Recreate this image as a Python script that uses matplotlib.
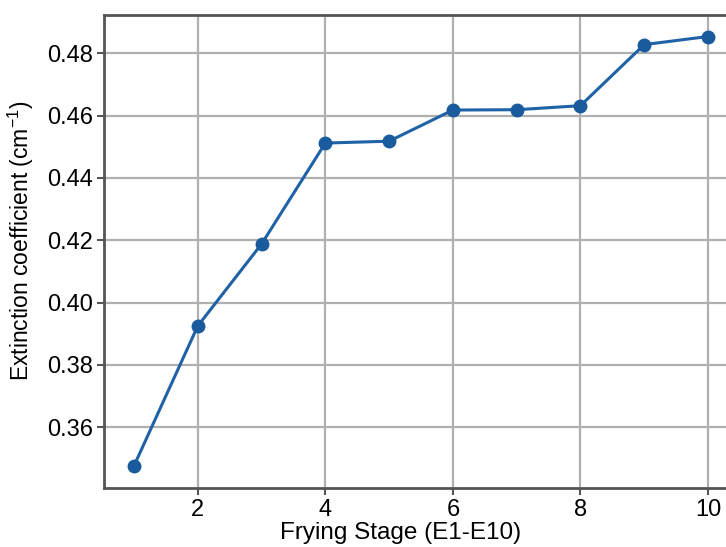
import matplotlib
matplotlib.use("Agg")
import matplotlib.pyplot as plt

stages = [1, 2, 3, 4, 5, 6, 7, 8, 9, 10]
extinction = [0.3476, 0.3925, 0.4188, 0.4512, 0.4518, 0.4618, 0.4619, 0.4632, 0.4828, 0.4854]
xticks = [2, 4, 6, 8, 10]
yticks = [0.36, 0.38, 0.40, 0.42, 0.44, 0.46, 0.48]

plt.rcParams['font.family'] = ['Liberation Sans', 'DejaVu Sans']
plt.rcParams['mathtext.fontset'] = 'custom'
plt.rcParams['mathtext.rm'] = 'Liberation Sans'
plt.rcParams['mathtext.it'] = 'Liberation Sans:italic'

fig = plt.figure(figsize=(7.26, 5.47), dpi=100)
ax = fig.add_axes([104/726, 1 - 488/547, 634/726, (488 - 15)/547])

ax.plot(stages, extinction, color='#1f62a6', lw=2.2, marker='o', ms=9,
        markerfacecolor='#1a5b9e', markeredgecolor='#1a5b9e', zorder=3)

ax.set_xlim(0.53, 10.47)
ax.set_ylim(0.3405, 0.4923)
ax.set_xticks(xticks)
ax.set_yticks(yticks)
ax.set_yticklabels([f"{v:.2f}" for v in yticks])
ax.grid(True, color='#b0b0b0', lw=1.6)
ax.set_axisbelow(True)
for s in ax.spines.values():
    s.set_color('#555555')
    s.set_linewidth(2)
ax.tick_params(axis='both', direction='out', length=5, width=1.5, color='#555555',
               labelsize=17, pad=3)
ax.set_xlabel('Frying Stage (E1-E10)', fontsize=17.5)
ax.xaxis.set_label_coords(0.467, -0.072)
ax.set_ylabel('Extinction coefficient (cm$^{\\mathrm{-1}}$)', fontsize=16.5)
ax.yaxis.set_label_coords(-0.108, 0.522)

fig.savefig('out.png', dpi=100)
